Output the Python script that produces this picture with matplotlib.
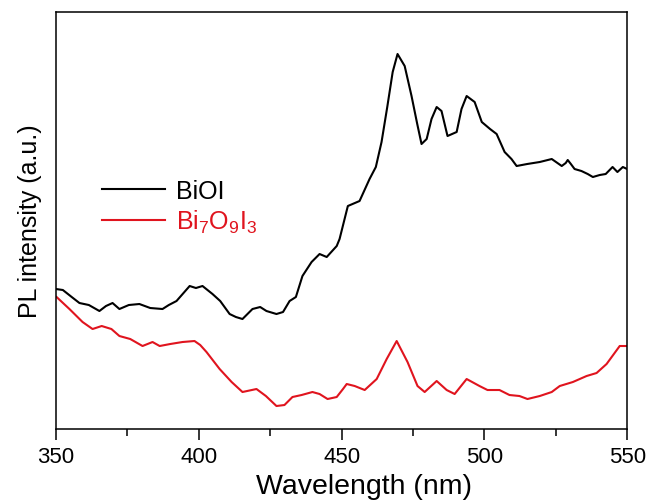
import matplotlib
matplotlib.use('Agg')
import matplotlib.pyplot as plt
from matplotlib.ticker import MultipleLocator

plt.rcParams['font.family'] = ['Liberation Sans', 'DejaVu Sans']
plt.rcParams['mathtext.default'] = 'regular'

# BiOI spectrum (wavelength nm, intensity a.u.)
wl_bioi = [350.0, 352.4, 355.5, 358.2, 361.5, 365.2, 367.5, 369.8, 372.2, 375.5,
           379.2, 383.0, 387.3, 389.5, 392.2, 396.8, 399.0, 401.3, 404.8, 407.5,
           410.8, 413.0, 415.3, 418.8, 421.5, 423.7, 427.2, 429.5, 431.8, 434.0,
           436.3, 439.5, 442.3, 444.8, 448.3, 449.3, 452.2, 456.3, 459.8, 462.0,
           464.0, 466.0, 467.9, 469.6, 472.1, 474.5, 476.5, 478.0, 479.8, 481.5,
           483.3, 485.0, 487.1, 490.3, 492.0, 493.8, 496.6, 499.1, 502.0, 504.3,
           507.1, 509.5, 511.3, 515.0, 519.4, 523.6, 527.1, 528.5, 529.2, 530.3,
           531.6, 534.0, 536.2, 538.0, 540.4, 542.5, 544.9, 546.6, 548.5, 550.0]
int_bioi = [140, 139, 132, 126, 124, 118, 123, 126, 120, 124,
            125, 121, 120, 124, 128, 143, 141, 143, 135, 128,
            115, 112, 110, 120, 122, 118, 115, 117, 128, 132,
            153, 167, 175, 172, 183, 190, 223, 228, 250, 262,
            287, 322, 357, 375, 363, 333, 305, 285, 290, 310,
            322, 318, 293, 297, 320, 333, 327, 307, 300, 295,
            277, 270, 263, 265, 267, 270, 263, 266, 269, 265,
            260, 258, 255, 252, 254, 255, 262, 257, 262, 260]

# Bi7O9I3 spectrum
wl_bi7 = [350.2, 354.7, 359.3, 362.8, 366.0, 369.4, 372.2, 376.0, 380.3, 383.8,
          386.3, 390.0, 394.3, 398.5, 400.5, 402.7, 407.3, 411.5, 415.3, 420.2,
          423.5, 427.2, 430.0, 432.8, 436.0, 439.8, 442.3, 445.1, 448.3, 450.5,
          451.8, 454.6, 458.1, 462.3, 465.8, 469.3, 473.1, 476.6, 479.1, 483.3,
          486.8, 489.6, 493.8, 498.3, 501.1, 505.3, 508.8, 512.3, 515.1, 519.4,
          523.6, 526.4, 531.0, 535.8, 539.3, 542.8, 547.4, 549.8]
int_bi7 = [132, 120, 107, 100, 103, 100, 93, 90, 83, 87,
           83, 85, 87, 88, 84, 77, 60, 47, 37, 40,
           33, 23, 24, 32, 34, 37, 35, 30, 32, 40,
           45, 43, 39, 50, 70, 88, 67, 43, 37, 48,
           39, 35, 50, 43, 39, 39, 34, 33, 30, 33,
           37, 43, 47, 53, 56, 65, 83, 83]

fig = plt.figure(figsize=(6.49, 5.02), dpi=100)
ax = fig.add_axes([0.0863, 0.1434, 0.88, 0.8307])

ax.plot(wl_bioi, int_bioi, color='black', lw=1.5, label='BiOI')
ax.plot(wl_bi7, int_bi7, color='#e0141e', lw=1.5, label='Bi$_7$O$_9$I$_3$')

ax.set_xlim(350, 550)
ax.set_ylim(0, 417)
ax.xaxis.set_major_locator(MultipleLocator(50))
ax.xaxis.set_minor_locator(MultipleLocator(25))
ax.set_yticks([])
ax.tick_params(axis='x', which='major', direction='out', length=8, width=1.1,
               labelsize=16, pad=4)
ax.tick_params(axis='x', which='minor', direction='out', length=5, width=1.1)
for s in ax.spines.values():
    s.set_linewidth(1.1)

ax.set_xlabel('Wavelength (nm)', fontsize=20.5, labelpad=5)
ax.xaxis.set_label_coords(0.539, -0.105)
ax.xaxis.label.set_va('top')
ax.set_ylabel('PL intensity (a.u.)', fontsize=18, labelpad=10)

leg = ax.legend(loc='center left', bbox_to_anchor=(0.0806, 0.533), frameon=False,
                fontsize=18, handlelength=2.5, handletextpad=0.45,
                labelspacing=0.2, borderaxespad=0, borderpad=0)
for txt, line in zip(leg.get_texts(), leg.get_lines()):
    txt.set_color(line.get_color())

fig.savefig('out.png', dpi=100)
